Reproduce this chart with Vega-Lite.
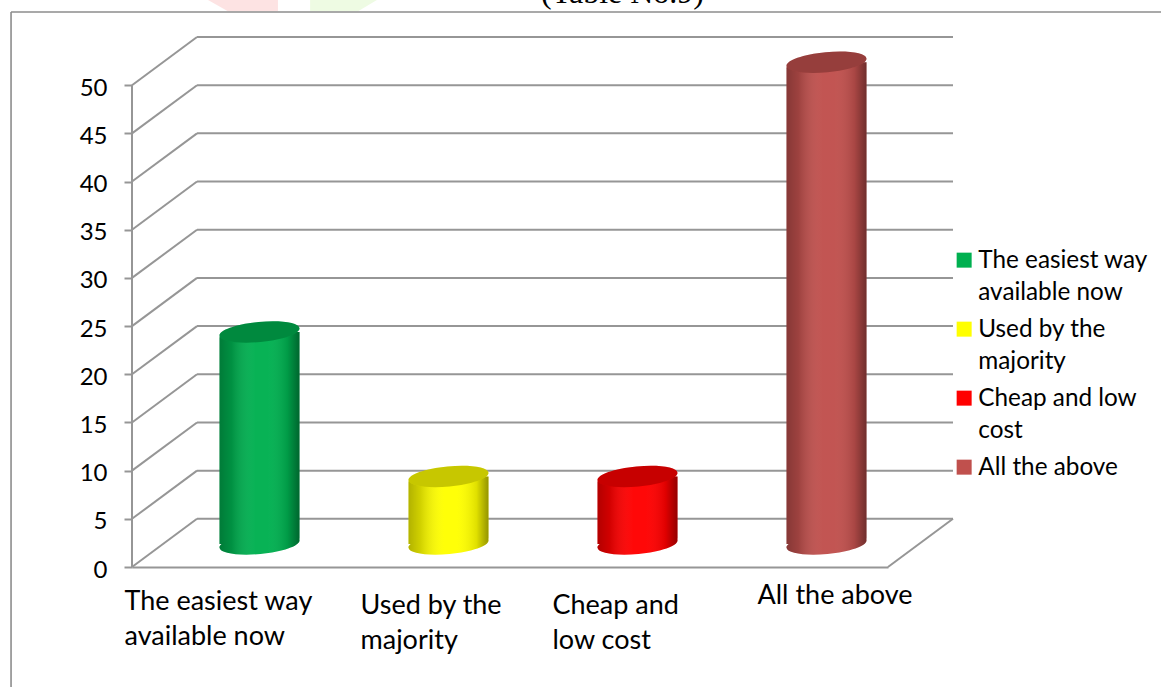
{
  "$schema": "https://vega.github.io/schema/vega-lite/v6.json",
  "width": 821,
  "height": 530,
  "autosize": "none",
  "padding": {"left": 132, "top": 37, "right": 208, "bottom": 120},
  "background": "white",
  "view": {"stroke": null},
  "title": {"text": "(Table No.9)", "font": "Liberation Serif", "fontSize": 32, "fontWeight": "normal", "color": "black", "anchor": "middle", "orient": "top", "baseline": "alphabetic", "offset": 0, "dy": 35, "dx": 80},
  "datasets": {
    "answers": [
      {"answer": "The easiest way available now", "percent": 22},
      {"answer": "Used by the majority", "percent": 7},
      {"answer": "Cheap and low cost", "percent": 7},
      {"answer": "All the above", "percent": 50}
    ],
    "walls": [
      {"x": 0.344, "x2": 4.344, "y": 5, "y2": 5},
      {"x": 0.344, "x2": 4.344, "y": 10, "y2": 10},
      {"x": 0.344, "x2": 4.344, "y": 15, "y2": 15},
      {"x": 0.344, "x2": 4.344, "y": 20, "y2": 20},
      {"x": 0.344, "x2": 4.344, "y": 25, "y2": 25},
      {"x": 0.344, "x2": 4.344, "y": 30, "y2": 30},
      {"x": 0.344, "x2": 4.344, "y": 35, "y2": 35},
      {"x": 0.344, "x2": 4.344, "y": 40, "y2": 40},
      {"x": 0.344, "x2": 4.344, "y": 45, "y2": 45},
      {"x": 0.344, "x2": 4.344, "y": 50, "y2": 50},
      {"x": 0.344, "x2": 4.344, "y": 55, "y2": 55},
      {"x": 0, "x2": 0.344, "y": 0, "y2": 5},
      {"x": 0, "x2": 0.344, "y": 5, "y2": 10},
      {"x": 0, "x2": 0.344, "y": 10, "y2": 15},
      {"x": 0, "x2": 0.344, "y": 15, "y2": 20},
      {"x": 0, "x2": 0.344, "y": 20, "y2": 25},
      {"x": 0, "x2": 0.344, "y": 25, "y2": 30},
      {"x": 0, "x2": 0.344, "y": 30, "y2": 35},
      {"x": 0, "x2": 0.344, "y": 35, "y2": 40},
      {"x": 0, "x2": 0.344, "y": 40, "y2": 45},
      {"x": 0, "x2": 0.344, "y": 45, "y2": 50},
      {"x": 0, "x2": 0.344, "y": 50, "y2": 55},
      {"x": 0, "x2": 0, "y": 0, "y2": 50},
      {"x": 4, "x2": 4.344, "y": 0, "y2": 5}
    ],
    "frame": [
      {"x": -0.64, "x2": -0.64, "y": 57.6, "y2": -12.5},
      {"x": -0.64, "x2": 5.45, "y": 57.6, "y2": 57.6}
    ]
  },
  "layer": [
    {
      "layer": [
        {
          "data": {"values": [{"x": 0.587, "y": 58.3}]},
          "mark": {"type": "point", "filled": true, "opacity": 1, "fill": "#fde3e3", "size": 4900, "shape": "M-1 -.15L1 -.15L1 .17L-.43 .17Z"},
          "encoding": {
            "x": {"field": "x", "type": "quantitative", "scale": {"domain": [0, 4.344], "range": [0, 821], "nice": false, "zero": false}, "axis": null},
            "y": {"field": "y", "type": "quantitative"}
          }
        },
        {
          "data": {"values": [{"x": 1.111, "y": 58.3}]},
          "mark": {"type": "point", "filled": true, "opacity": 1, "fill": "#eefbe3", "size": 4900, "shape": "M-.91 -.15L1 -.15L.46 .17L-.91 .17Z"},
          "encoding": {
            "x": {"field": "x", "type": "quantitative", "axis": null},
            "y": {"field": "y", "type": "quantitative"}
          }
        },
        {
          "data": {"name": "frame"},
          "mark": {"type": "rule", "color": "#8c8c8c", "strokeWidth": 1.6},
          "encoding": {
            "x": {"field": "x", "type": "quantitative", "axis": null},
            "x2": {"field": "x2"},
            "y": {"field": "y", "type": "quantitative"},
            "y2": {"field": "y2"}
          }
        },
        {
          "data": {"name": "walls"},
          "mark": {"type": "rule", "color": "#969696", "strokeWidth": 2},
          "encoding": {
            "x": {"field": "x", "type": "quantitative", "axis": null},
            "x2": {"field": "x2"},
            "y": {
              "field": "y",
              "type": "quantitative",
              "scale": {"domain": [0, 55], "nice": false},
              "axis": {
                "title": null,
                "values": [0, 5, 10, 15, 20, 25, 30, 35, 40, 45, 50],
                "domain": false,
                "grid": false,
                "tickColor": "#969696",
                "tickWidth": 2,
                "tickSize": 8,
                "labelPadding": 17,
                "labelOffset": 3,
                "labelFont": "Lato",
                "labelFontSize": 24,
                "labelColor": "black"
              }
            },
            "y2": {"field": "y2"}
          }
        }
      ]
    },
    {
      "data": {"name": "answers"},
      "encoding": {
        "x": {
          "field": "answer",
          "type": "nominal",
          "sort": null,
          "scale": {"range": [0, 756], "paddingInner": 0, "paddingOuter": 0},
          "axis": {
            "title": null,
            "ticks": false,
            "domainColor": "#969696",
            "domainWidth": 2,
            "labelAngle": 0,
            "labelAlign": "left",
            "labelBaseline": "top",
            "labelFont": "Lato",
            "labelFontSize": 27,
            "labelColor": "black",
            "labelLineHeight": 35.5,
            "labelLimit": 400,
            "labelOverlap": false,
            "labelBound": false,
            "labelFlush": false,
            "labelOffset": {"condition": [
              {"test": "datum.value == 'The easiest way available now'", "value": -102},
              {"test": "datum.value == 'Used by the majority'", "value": -55},
              {"test": "datum.value == 'Cheap and low cost'", "value": -52}
            ], "value": -36},
            "labelPadding": {"condition": [
              {"test": "datum.value == 'The easiest way available now'", "value": 21},
              {"test": "datum.value == 'All the above'", "value": 15}
            ], "value": 25},
            "labelExpr": "datum.value == 'The easiest way available now' ? ['The easiest way', 'available now'] : datum.value == 'Used by the majority' ? ['Used by the', 'majority'] : datum.value == 'Cheap and low cost' ? ['Cheap and', 'low cost'] : datum.value"
          }
        },
        "y": {"field": "percent", "type": "quantitative", "stack": null}
      },
      "layer": [
        {
          "mark": {"type": "point", "filled": true, "opacity": 1, "size": 6400, "xOffset": 33, "yOffset": -23, "shape": "M-1 .095A1 .25 -5.4 1 1 1 -.095A1 .25 -5.4 1 1 -1 .095Z"},
          "encoding": {
            "y": {"datum": 0},
            "color": {
              "field": "answer",
              "type": "nominal",
              "sort": null,
              "scale": {"range": ["#00B050", "#FFFF00", "#FF0000", "#C0504D"]},
              "legend": {
                "title": null,
                "orient": "none",
                "legendX": 820,
                "legendY": 211,
                "symbolType": "square",
                "symbolSize": 225,
                "symbolStrokeWidth": 0,
                "symbolOpacity": 1,
                "labelFont": "Lato",
                "labelFontSize": 24.3,
                "labelColor": "black",
                "labelLimit": 300,
                "labelBaseline": "top",
                "labelOffset": 2,
                "rowPadding": 11,
                "labelExpr": "datum.value == 'The easiest way available now' ? ['The easiest way', 'available now'] : datum.value == 'Used by the majority' ? ['Used by the', 'majority'] : datum.value == 'Cheap and low cost' ? ['Cheap and low', 'cost'] : datum.value",
                "encode": {"labels": {"update": {"lineHeight": {"value": 32}, "dy": {"value": -11}}}}
              }
            }
          }
        },
        {
          "mark": {
            "type": "point", "filled": true, "opacity": 1, "size": 6400, "xOffset": 33, "yOffset": -23,
            "shape": "M-1 .095A1 .25 -5.4 1 1 1 -.095A1 .25 -5.4 1 1 -1 .095Z",
            "fill": {"gradient": "linear", "x1": 0, "x2": 1, "y1": 0, "y2": 0, "stops": [
              {"offset": 0, "color": "rgba(0,0,0,0.3)"},
              {"offset": 0.15, "color": "rgba(0,0,0,0.18)"},
              {"offset": 0.45, "color": "rgba(255,255,255,0.03)"},
              {"offset": 0.6, "color": "rgba(255,255,255,0.03)"},
              {"offset": 0.85, "color": "rgba(0,0,0,0.12)"},
              {"offset": 1, "color": "rgba(0,0,0,0.42)"}
            ]}
          },
          "encoding": {"y": {"datum": 0}}
        },
        {
          "mark": {"type": "bar", "size": 80, "xOffset": 33, "x2Offset": 33, "yOffset": -23, "y2Offset": -23, "cornerRadiusTopLeft": 6, "cornerRadiusBottomRight": 6},
          "encoding": {
            "y2": {"datum": 0},
            "color": {"field": "answer", "type": "nominal", "sort": null}
          }
        },
        {
          "mark": {
            "type": "bar", "size": 80, "xOffset": 33, "x2Offset": 33, "yOffset": -23, "y2Offset": -23, "cornerRadiusTopLeft": 6, "cornerRadiusBottomRight": 6,
            "fill": {"gradient": "linear", "x1": 0, "x2": 1, "y1": 0, "y2": 0, "stops": [
              {"offset": 0, "color": "rgba(0,0,0,0.3)"},
              {"offset": 0.15, "color": "rgba(0,0,0,0.18)"},
              {"offset": 0.45, "color": "rgba(255,255,255,0.03)"},
              {"offset": 0.6, "color": "rgba(255,255,255,0.03)"},
              {"offset": 0.85, "color": "rgba(0,0,0,0.12)"},
              {"offset": 1, "color": "rgba(0,0,0,0.42)"}
            ]}
          },
          "encoding": {"y2": {"datum": 0}}
        },
        {
          "mark": {"type": "point", "filled": true, "opacity": 1, "size": 6400, "xOffset": 33, "yOffset": -23, "shape": "M-1 .095A1 .25 -5.4 1 1 1 -.095A1 .25 -5.4 1 1 -1 .095Z"},
          "encoding": {"color": {"field": "answer", "type": "nominal", "sort": null}}
        },
        {
          "mark": {"type": "point", "filled": true, "opacity": 1, "fill": "rgba(0,0,0,0.22)", "size": 6400, "xOffset": 33, "yOffset": -23, "shape": "M-1 .095A1 .25 -5.4 1 1 1 -.095A1 .25 -5.4 1 1 -1 .095Z"}
        }
      ]
    }
  ],
  "resolve": {"scale": {"x": "independent"}}
}
